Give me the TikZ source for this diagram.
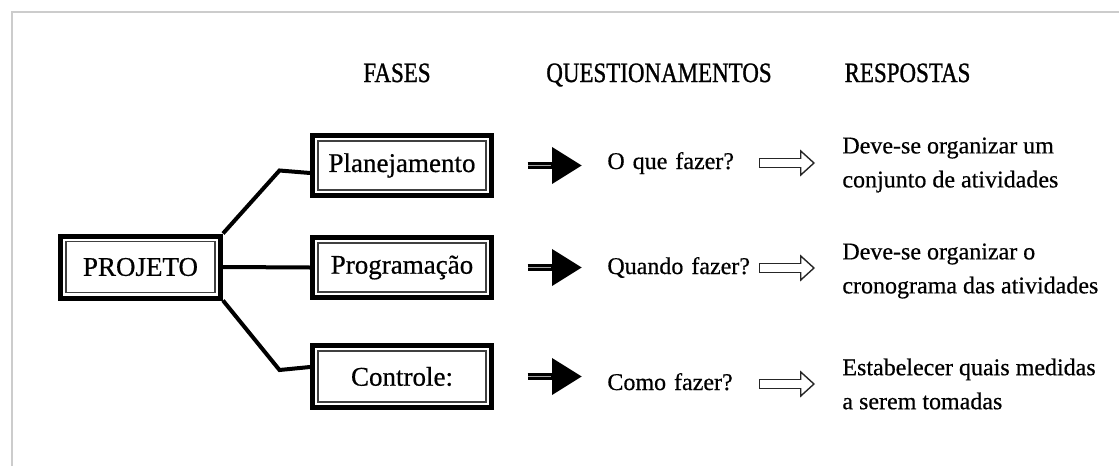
\documentclass[tikz,border=0pt]{standalone}
\usepackage{fontspec}
\setmainfont{Liberation Serif}[FakeBold=0.6]
\newfontfamily\headfont[FakeStretch=0.82,FakeBold=1]{Liberation Serif}
\usetikzlibrary{arrows.meta}

\begin{document}
\begin{tikzpicture}[x=0.5pt,y=-0.5pt,
  caixa/.style={draw, line width=2.5pt, inner sep=0pt, minimum width=89.5pt, minimum height=30pt,
    font=\fontsize{13.5}{16}\selectfont,
    path picture={\draw[line width=0.75pt, black!75]
      ([shift={(2.75pt,2.75pt)}]path picture bounding box.south west) rectangle
      ([shift={(-2.75pt,-2.75pt)}]path picture bounding box.north east);}},
  titulo/.style={anchor=base, font=\headfont\fontsize{14}{16}\selectfont},
  perg/.style={anchor=west, inner sep=0pt, text width=74pt, align=left, text height=9pt, text depth=3pt,
    font=\fontsize{12}{14}\selectfont},
  resp/.style={anchor=west, inner sep=0pt, align=left, font=\fontsize{12}{17}\selectfont},
  link/.style={line width=2pt},
  seta/.style={line width=3.5pt, -{Triangle[length=15pt,width=17.5pt]},
    shorten <=16.75pt, shorten >=12.5pt,
    postaction={draw=black!35, line width=0.9pt, -, shorten >=28pt}},
  oco/.style={line width=5pt, draw=black!85, -{Triangle[open,length=7.5pt,width=13.5pt,line width=0.7pt]},
    shorten <=1.5pt, shorten >=13.5pt,
    postaction={draw=white, line width=3.6pt, -, shorten <=2.2pt, shorten >=18.5pt}}]
\useasboundingbox (0,0) rectangle (1119,466);
\draw[black!20, line width=1.2pt] (12,466) -- (12,12) -- (1119,12);

% cabecalho
\node[titulo] (tfases) at (397,82) {FASES};
\node[titulo] (tquest) at (659,82) {QUESTIONAMENTOS};
\node[titulo] (tresp) at (907.5,82) {RESPOSTAS};

% caixas
\node[caixa, minimum width=80pt, minimum height=31pt] (projeto) at (140.5,267) {PROJETO};
\node[caixa] (plan) at (402,165.5) {Planejamento};
\node[caixa] (prog) at (402,267.5) {Programação};
\node[caixa, minimum height=31pt] (ctrl) at (402,376.5) {Controle:};

\draw[link] (projeto.north east) -- ++(56.5,-63) -- ([yshift=-3.75pt]plan.west);
\draw[link] (projeto.east) -- (prog.west);
\draw[link] (projeto.south east) -- ++(56.5,69.5) -- ([yshift=4.75pt]ctrl.west);

% perguntas
\node[perg] (q1) at (607,163) {O que fazer?};
\node[perg] (q2) at (607,268) {Quando fazer?};
\node[perg] (q3) at (607,384) {Como fazer?};

% respostas
\node[resp] (r1) at (842,165) {Deve-se organizar um\\conjunto de atividades};
\node[resp] (r2) at (842,271) {Deve-se organizar o\\cronograma das atividades};
\node[resp] (r3) at (842,384) {Estabelecer quais medidas\\a serem tomadas};

\draw[seta] (plan.east) -- (plan.east -| q1.west);
\draw[seta] (prog.east) -- (prog.east -| q2.west);
\draw[seta] (ctrl.east) -- (ctrl.east -| q3.west);

\draw[oco] (q1.east) -- (q1.east -| r1.west);
\draw[oco] (q2.east) -- (q2.east -| r2.west);
\draw[oco] (q3.east) -- (q3.east -| r3.west);
\end{tikzpicture}
\end{document}
